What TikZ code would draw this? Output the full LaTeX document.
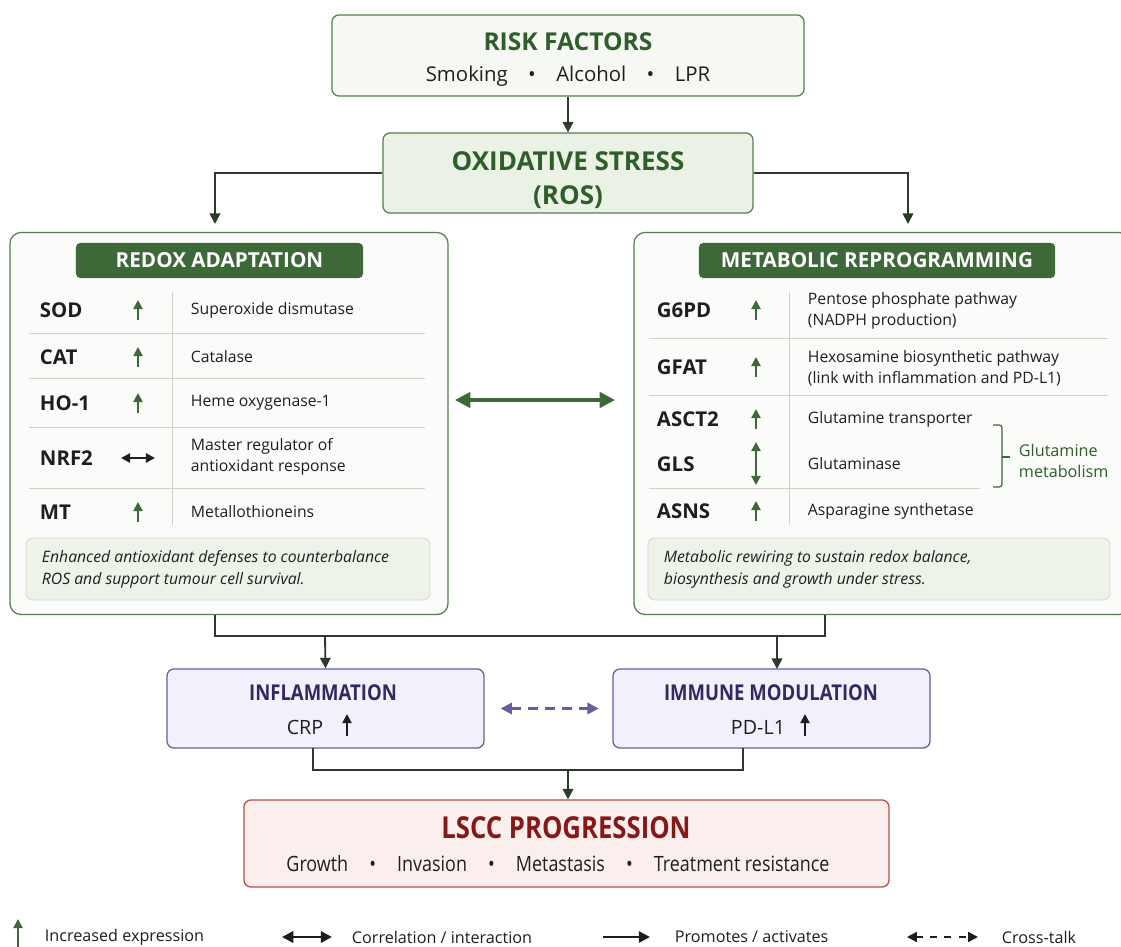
\documentclass[tikz,border=0pt]{standalone}
\usepackage{fontspec}
\setmainfont{Open Sans}
\newfontfamily\narrowfont[FakeStretch=0.85]{Open Sans}
\usetikzlibrary{arrows.meta,positioning,calc}

\definecolor{leaf}{HTML}{3D6838}
\definecolor{leafline}{HTML}{557F50}
\definecolor{leaftext}{HTML}{2F5E2B}
\definecolor{riskfill}{HTML}{F6F9F3}
\definecolor{rosfill}{HTML}{EAF2E5}
\definecolor{panelfill}{HTML}{FBFBF9}
\definecolor{notefill}{HTML}{EEF3EA}
\definecolor{notegray}{HTML}{D3DACE}
\definecolor{rulegray}{HTML}{D0D0CC}
\definecolor{linkgray}{HTML}{2C3A2A}
\definecolor{violetline}{HTML}{6B5C9E}
\definecolor{violetfill}{HTML}{F2F0FA}
\definecolor{violettext}{HTML}{33285F}
\definecolor{redline}{HTML}{B5504A}
\definecolor{redfill}{HTML}{FBEFEE}
\definecolor{redtext}{HTML}{861818}
\definecolor{ink}{HTML}{1E1E1E}

\begin{document}
\begin{tikzpicture}[x=0.025cm,y=-0.025cm]
    \tikzstyle{box} = [
      rectangle,
      draw,
      rounded corners=5pt,
      line width=0.9pt,
      inner sep=0pt,
    ]
    \tikzstyle{arrow} = [
      line width=1.3pt,
      -{Triangle[length=7.5pt,width=7.5pt]},
      draw=linkgray,
    ]
    \tikzstyle{link} = [
      line width=1.3pt,
      draw=linkgray,
    ]
    \tikzstyle{gene} = [anchor=west, text=ink, font=\fontsize{14.5}{17}\selectfont\bfseries]
    \tikzstyle{desc} = [anchor=west, align=left, text=ink, font=\fontsize{11.2}{14.8}\selectfont]
    \tikzstyle{note} = [anchor=west, align=left, text=ink, font=\fontsize{11.2}{15.6}\selectfont\itshape]
    \tikzstyle{sep} = [draw=rulegray, line width=0.6pt]
    \tikzstyle{upicon} = [line width=1.5pt, -{Triangle[length=6.5pt,width=6.5pt]}]
    \tikzstyle{bothicon} = [line width=1.6pt, {Triangle[length=6.5pt,width=6.5pt]}-{Triangle[length=6.5pt,width=6.5pt]}]
    \tikzstyle{legend} = [anchor=west, text=ink, font=\fontsize{11.5}{14}\selectfont]

    \newcommand{\incr}[3]{\draw[upicon,#1] (#2,#3+10) -- (#2,#3-10);}

    \useasboundingbox (0,0) rectangle (1121,947);
    \fill[white] (0,0) rectangle (1121,947);

    % top boxes
    \node[box,draw=leafline,fill=riskfill,minimum width=11.8cm,minimum height=2.025cm] (risk) at (568,55.5) {};
    \node[text=leaftext,font=\fontsize{17.5}{20}\selectfont\bfseries] (risktitle) at (568,42) {RISK FACTORS};
    \node[text=ink,font=\fontsize{14.5}{17}\selectfont] (riskitems) at (568,76) {Smoking\quad•\quad Alcohol\quad•\quad LPR};

    \node[box,draw=leafline,fill=rosfill,minimum width=9.25cm,minimum height=2cm] (ros) at (568,173) {};
    \node[align=center,text=leaftext,font=\fontsize{18.5}{24}\selectfont\bfseries] (rostitle) at (568,180) {OXIDATIVE STRESS\\(ROS)};

    \draw[arrow] (risk) -- (ros);

    % panels
    \node[box,draw=leafline,fill=panelfill,rounded corners=8pt,minimum width=10.95cm,minimum height=9.55cm] (redox) at (229,423.5) {};
    \node[box,draw=none,fill=leaf,text=white,rounded corners=3pt,minimum width=7.175cm,minimum height=0.875cm,
          font=\fontsize{14.7}{17}\selectfont\bfseries] (redoxhead) at (219.5,260.5) {REDOX ADAPTATION};

    \node[box,draw=leafline,fill=panelfill,rounded corners=8pt,minimum width=12.4cm,minimum height=9.55cm] (metab) at (882,423.5) {};
    \node[box,draw=none,fill=leaf,text=white,rounded corners=3pt,minimum width=8.9cm,minimum height=0.875cm,
          font=\fontsize{14.7}{17}\selectfont\bfseries] (metabhead) at (877,260.5) {METABOLIC REPROGRAMMING};

    \coordinate (redoxin) at (215,224);
    \coordinate (metabin) at (908,224);
    \draw[arrow] (ros.west) -| (redoxin);
    \draw[arrow] (ros.east) -| (metabin);

    % redox table
    \draw[sep] (172,292) -- (172,525);
    \draw[sep] (29,333) -- (425,333);
    \draw[sep] (29,378) -- (425,378);
    \draw[sep] (29,427) -- (425,427);
    \draw[sep] (29,488) -- (425,488);

    \node[gene] (sod) at (35,310) {SOD};
    \node[gene] (cat) at (35,357) {CAT};
    \node[gene] (hoone) at (35,403) {HO-1};
    \node[gene] (nrf) at (35,458) {NRF2};
    \node[gene] (mt) at (35,512) {MT};

    \incr{leaf}{138}{310}
    \incr{leaf}{138}{357}
    \incr{leaf}{138}{403}
    \draw[bothicon,ink] (121,458) -- (155,458);
    \incr{leaf}{138}{512}

    \node[desc] (soddesc) at (186,310) {Superoxide dismutase};
    \node[desc] (catdesc) at (186,357) {Catalase};
    \node[desc] (hodesc) at (186,403) {Heme oxygenase-1};
    \node[desc] (nrfdesc) at (186,457) {Master regulator of\\antioxidant response};
    \node[desc] (mtdesc) at (186,512) {Metallothioneins};

    \node[box,draw=notegray,fill=notefill,line width=0.6pt,minimum width=10.1cm,minimum height=1.55cm] (redoxnote) at (228,569) {};
    \node[note] (redoxtext) at (37,569) {Enhanced antioxidant defenses to counterbalance\\ROS and support tumour cell survival.};

    % metabolic table
    \draw[sep] (789,292) -- (789,525);
    \draw[sep] (649,338) -- (1108,338);
    \draw[sep] (649,395) -- (1108,395);
    \draw[sep] (649,488) -- (980,488);

    \node[gene] (gsixpd) at (652,310) {G6PD};
    \node[gene] (gfat) at (652,367) {GFAT};
    \node[gene] (asct) at (652,419) {ASCT2};
    \node[gene] (gls) at (652,464) {GLS};
    \node[gene] (asns) at (652,511) {ASNS};

    \incr{leaf}{756}{310}
    \incr{leaf}{756}{367}
    \incr{leaf}{756}{419}
    \draw[bothicon,leaf] (756,442) -- (756,485);
    \incr{leaf}{756}{511}

    \node[desc] (gsixpddesc) at (803,311) {Pentose phosphate pathway\\(NADPH production)};
    \node[desc] (gfatdesc) at (803,368) {Hexosamine biosynthetic pathway\\(link with inflammation and PD-L1)};
    \node[desc] (asctdesc) at (803,419) {Glutamine transporter};
    \node[desc] (glsdesc) at (803,464) {Glutaminase};
    \node[desc] (asnsdesc) at (803,511) {Asparagine synthetase};

    \draw[leaf,line width=0.9pt,rounded corners=2pt] (993,425) -- (1002,425) -- (1002,487) -- (993,487);
    \draw[leaf,line width=0.9pt] (1002,457) -- (1010,457);
    \node[desc,text=leaftext,font=\fontsize{11.5}{14.8}\selectfont] (glutamine) at (1014,461) {Glutamine\\metabolism};

    \node[box,draw=notegray,fill=notefill,line width=0.6pt,minimum width=11.55cm,minimum height=1.55cm] (metabnote) at (879,569) {};
    \node[note] (metabtext) at (659,569) {Metabolic rewiring to sustain redox balance,\\biosynthesis and growth under stress.};

    % link between panels
    \draw[line width=2.4pt,leaf,{Triangle[length=11pt,width=11pt]}-{Triangle[length=11pt,width=11pt]}] (455,400) -- (615,400);

    % lower boxes
    \node[box,draw=violetline,fill=violetfill,minimum width=7.925cm,minimum height=1.975cm] (infl) at (325.5,708.5) {};
    \node[text=violettext,font=\narrowfont\fontsize{15.5}{18}\selectfont\bfseries] (infltitle) at (323,693) {INFLAMMATION};
    \node[text=ink,font=\fontsize{14}{17}\selectfont] (crp) at (305,727) {CRP};
    \draw[line width=1.5pt,-{Triangle[length=6.5pt,width=6.5pt]},ink] (347,736) -- (347,714);

    \node[box,draw=violetline,fill=violetfill,minimum width=7.925cm,minimum height=1.975cm] (immune) at (771.5,708.5) {};
    \node[text=violettext,font=\narrowfont\fontsize{15.5}{18}\selectfont\bfseries] (immunetitle) at (771,693) {IMMUNE MODULATION};
    \node[text=ink,font=\fontsize{14}{17}\selectfont] (pdl) at (758,727) {PD-L1};
    \draw[line width=1.5pt,-{Triangle[length=6.5pt,width=6.5pt]},ink] (805,736) -- (805,714);

    \draw[line width=1.7pt,violetline,dashed,dash pattern=on 7pt off 5pt,{Triangle[length=8pt,width=8pt]}-{Triangle[length=8pt,width=8pt]}] (infl.east) ++(16,0) -- ++(98,0);

    \coordinate (redoxout) at (215,615);
    \coordinate (metabout) at (825,615);
    \coordinate (joinleft) at (215,636);
    \coordinate (joinright) at (825,636);
    \draw[link] (redoxout) -- (joinleft) -- (joinright) -- (metabout);
    \draw[arrow] (325,636) -- (infl.north);
    \draw[arrow] (777,636) -- (777,669);

    \node[box,draw=redline,fill=redfill,minimum width=16.125cm,minimum height=2.175cm] (lscc) at (566.5,843.5) {};
    \node[text=redtext,font=\narrowfont\fontsize{21.5}{24}\selectfont\bfseries] (lscctitle) at (566,828) {LSCC PROGRESSION};
    \node[text=ink,font=\narrowfont\fontsize{15}{18}\selectfont] (lsccitems) at (558,864) {Growth\quad•\quad Invasion\quad•\quad Metastasis\quad•\quad Treatment resistance};

    \coordinate (inflout) at (313,748);
    \coordinate (immuneout) at (743,748);
    \coordinate (lsccin) at (568,770);
    \draw[link] (inflout) -- (313,770) -- (743,770) -- (immuneout);
    \draw[arrow] (lsccin) -- (lsccin |- lscc.north);

    % legend
    \draw[upicon,leaf] (18,947) -- (18,919);
    \node[legend] (legup) at (40,937) {Increased expression};
    \draw[line width=2pt,ink,{Triangle[length=8pt,width=8pt]}-{Triangle[length=8pt,width=8pt]}] (282,937) -- (332,937);
    \node[legend] (legboth) at (347,937) {Correlation / interaction};
    \draw[line width=1.8pt,ink,-{Triangle[length=8pt,width=8pt]}] (603,937) -- (650,937);
    \node[legend] (legpromote) at (670,937) {Promotes / activates};
    \draw[line width=1.5pt,ink,dashed,dash pattern=on 5pt off 5pt,{Triangle[length=7pt,width=7pt]}-{Triangle[length=7pt,width=7pt]}] (907,937) -- (978,937);
    \node[legend] (legcross) at (997,937) {Cross-talk};
\end{tikzpicture}
\end{document}
